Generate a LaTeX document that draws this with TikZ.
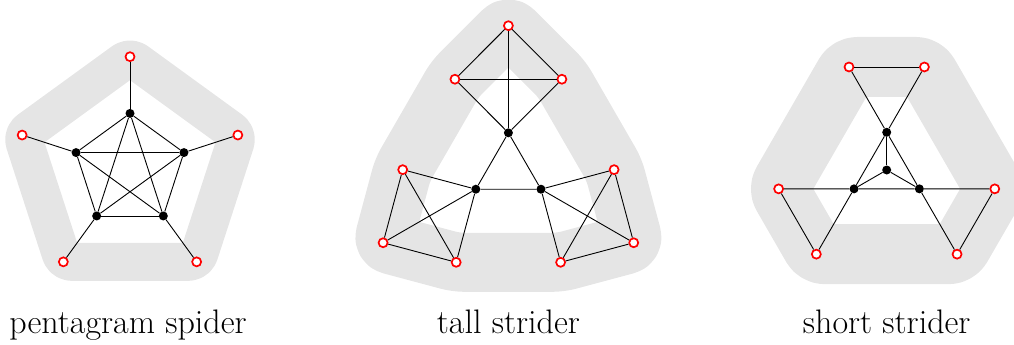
\documentclass[tikz,border=0pt]{standalone}
\begin{document}
\begin{tikzpicture}[x=1pt,y=-1pt,
  rv/.style={circle,draw=red,fill=white,line width=1.7pt,inner sep=0pt,minimum size=9pt},
  bv/.style={circle,fill=black,inner sep=0pt,minimum size=9pt},
  ed/.style={black,line width=0.9pt},
  band/.style={draw=gray!20,line join=round,rounded corners=8pt},
  lab/.style={font=\fontsize{34}{40}\selectfont,anchor=base}]
\useasboundingbox (0,0) rectangle (1014,345);
% ---------- pentagram spider ----------
\begin{scope}[shift={(130,170.1)}]
  \foreach \i/\a in {1/-90,2/-18,3/54,4/126,5/198}{
    \coordinate (po\i) at (\a:113.4);
    \coordinate (pi\i) at (\a:56.7);
  }
  \draw[band,line width=38pt] (po1) -- (po2) -- (po3) -- (po4) -- (po5) -- cycle;
  \foreach \i in {1,...,5}{
    \node[rv] (PO\i) at (po\i) {};
    \node[bv] (PI\i) at (pi\i) {};
  }
  \foreach \i in {1,...,5}{\draw[ed] (PO\i) -- (PI\i);}
  \foreach \i/\j in {1/2,2/3,3/4,4/5,5/1,1/3,3/5,5/2,2/4,4/1}{\draw[ed] (PI\i) -- (PI\j);}
\end{scope}
% ---------- tall strider ----------
\begin{scope}[shift={(508.4,170.4)}]
  \foreach \k in {0,1,2}{
    \coordinate (tb\k) at ({-90+120*\k}:37.6);
    \coordinate (tt\k) at ({-90+120*\k}:144.7);
    \coordinate (tl\k) at ({-120.4+120*\k}:105.7);
    \coordinate (tr\k) at ({-59.6+120*\k}:105.7);
  }
  \draw[band,line width=59pt] (tt0) -- (tr0) -- (tl1) -- (tt1) -- (tr1) -- (tl2) -- (tt2) -- (tr2) -- (tl0) -- cycle;
  \foreach \k in {0,1,2}{
    \node[bv] (TB\k) at (tb\k) {};
    \node[rv] (TT\k) at (tt\k) {};
    \node[rv] (TL\k) at (tl\k) {};
    \node[rv] (TR\k) at (tr\k) {};
  }
  \foreach \k in {0,1,2}{
    \draw[ed] (TT\k) -- (TL\k);
    \draw[ed] (TT\k) -- (TR\k);
    \draw[ed] (TL\k) -- (TR\k);
    \draw[ed] (TT\k) -- (TB\k);
    \draw[ed] (TL\k) -- (TB\k);
    \draw[ed] (TR\k) -- (TB\k);
  }
  \draw[ed] (TB0) -- (TB1) -- (TB2) -- (TB0);
\end{scope}
% ---------- short strider ----------
\begin{scope}[shift={(886.7,170)}]
  \coordinate (sc) at (0,0);
  \coordinate (sbt) at (-90:37.7);
  \coordinate (sbr) at (30:37.7);
  \coordinate (sbl) at (150:37.7);
  \coordinate (stl) at (-110.1:109.7);
  \coordinate (str) at (-69.9:109.7);
  \coordinate (sr) at (9.9:109.7);
  \coordinate (sbrr) at (50.1:109.7);
  \coordinate (sblr) at (129.9:109.7);
  \coordinate (sl) at (170.1:109.7);
  \draw[band,line width=60pt] (stl) -- (str) -- (sr) -- (sbrr) -- (sblr) -- (sl) -- cycle;
  \node[bv] (SC) at (sc) {};
  \node[bv] (SBT) at (sbt) {};
  \node[bv] (SBR) at (sbr) {};
  \node[bv] (SBL) at (sbl) {};
  \node[rv] (STL) at (stl) {};
  \node[rv] (STR) at (str) {};
  \node[rv] (SR) at (sr) {};
  \node[rv] (SBRR) at (sbrr) {};
  \node[rv] (SBLR) at (sblr) {};
  \node[rv] (SL) at (sl) {};
  \draw[ed] (STL) -- (STR);
  \draw[ed] (SR) -- (SBRR);
  \draw[ed] (SL) -- (SBLR);
  \draw[ed] (SBLR) -- (SBL) -- (SBT) -- (STR);
  \draw[ed] (SBRR) -- (SBR) -- (SBT) -- (STL);
  \draw[ed] (SL) -- (SBL) -- (SBR) -- (SR);
  \draw[ed] (SC) -- (SBT);
  \draw[ed] (SC) -- (SBL);
  \draw[ed] (SC) -- (SBR);
\end{scope}
% ---------- labels ----------
\node[lab] (L1) at (128,333) {pentagram spider};
\node[lab] (L2) at (508.4,333) {tall strider};
\node[lab] (L3) at (886.7,333) {short strider};
\end{tikzpicture}
\end{document}
